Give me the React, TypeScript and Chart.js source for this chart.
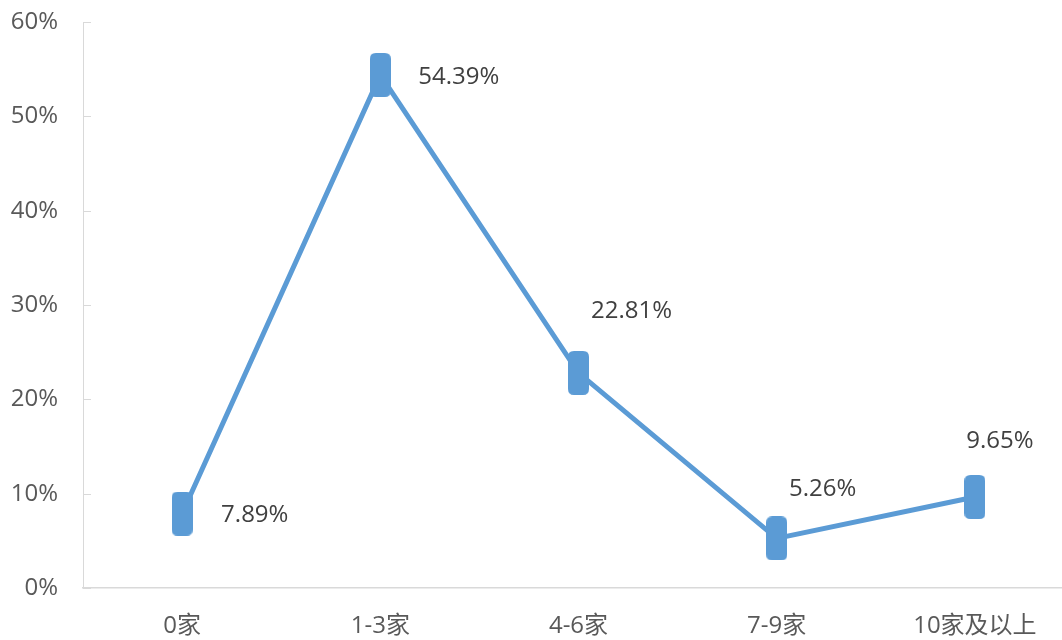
import React, { useEffect, useRef } from "react";
import { Chart, registerables } from "chart.js";

Chart.register(...registerables);

const categories = ["0家", "1-3家", "4-6家", "7-9家", "10家及以上"];
const values = [7.89, 54.39, 22.81, 5.26, 9.65];
const yTicks = [0, 10, 20, 30, 40, 50, 60];
// label placement offsets relative to the point [dx to label left/centre, dy], plus alignment
const labelAlign: ("left" | "center")[] = ["left", "left", "center", "center", "center"];
const labelOffsets: [number, number][] = [
  [39, 2],
  [38, 2],
  [53, -62],
  [46, -49],
  [25, -56],
];

const FONT = "'Open Sans', 'Noto Sans CJK SC', sans-serif";
const LINE_COLOR = "#5B9BD5";

function makeMarker(): HTMLCanvasElement {
  const w = 21;
  const h = 44;
  const c = document.createElement("canvas");
  c.width = w;
  c.height = h;
  const ctx = c.getContext("2d")!;
  ctx.fillStyle = LINE_COLOR;
  const rx = 6;
  const ry = 6;
  ctx.beginPath();
  ctx.moveTo(rx, 0);
  ctx.lineTo(w - rx, 0);
  ctx.quadraticCurveTo(w, 0, w, ry);
  ctx.quadraticCurveTo(w + 1, h / 2, w, h - ry);
  ctx.quadraticCurveTo(w, h, w - rx, h);
  ctx.lineTo(rx, h);
  ctx.quadraticCurveTo(0, h, 0, h - ry);
  ctx.quadraticCurveTo(-1, h / 2, 0, ry);
  ctx.quadraticCurveTo(0, 0, rx, 0);
  ctx.closePath();
  ctx.fill();
  return c;
}

const extrasPlugin = {
  id: "extras",
  afterDatasetsDraw(chart: any) {
    const ctx = chart.ctx;
    const y = chart.scales.y;
    const x = chart.scales.x;
    ctx.save();
    // inside tick marks on y axis
    ctx.strokeStyle = "#D9D9D9";
    ctx.lineWidth = 1;
    yTicks.forEach((t) => {
      const py = Math.round(y.getPixelForValue(t)) + 0.5;
      ctx.beginPath();
      ctx.moveTo(x.left, py);
      ctx.lineTo(x.left + 8, py);
      ctx.stroke();
    });
    // data labels
    const meta = chart.getDatasetMeta(0);
    ctx.font = `24px ${FONT}`;
    ctx.fillStyle = "#404040";
    ctx.textBaseline = "middle";
    meta.data.forEach((pt: any, i: number) => {
      const [dx, dy] = labelOffsets[i];
      ctx.textAlign = labelAlign[i];
      ctx.fillText(values[i].toFixed(2) + "%", pt.x + dx, pt.y + dy);
    });
    ctx.restore();
  },
};

export default function App() {
  const ref = useRef<HTMLCanvasElement>(null);
  useEffect(() => {
    document.body.style.margin = "0";
    const marker = makeMarker();
    const chart = new Chart(ref.current!, {
      type: "line",
      data: {
        labels: categories,
        datasets: [
          {
            data: values,
            borderColor: LINE_COLOR,
            backgroundColor: LINE_COLOR,
            borderWidth: 5,
            pointStyle: marker as any,
            pointRadius: 10,
            tension: 0,
            clip: false as any,
          },
        ],
      },
      options: {
        responsive: false,
        animation: false,
        devicePixelRatio: 1,
        layout: { autoPadding: false, padding: { top: 22, left: 0, right: 0, bottom: 0 } },
        plugins: { legend: { display: false }, tooltip: { enabled: false } },
        scales: {
          x: {
            offset: true,
            grid: { display: false, drawTicks: false },
            border: { display: true, color: "#D9D9D9", width: 1.5 },
            ticks: {
              color: "#595959",
              font: { family: FONT, size: 24 },
              padding: 24,
              maxRotation: 0,
              autoSkip: false,
            },
            afterFit: (s: any) => {
              s.height = 52;
              s.paddingLeft = 0;
              s.paddingRight = 0;
            },
          },
          y: {
            min: 0,
            max: 60,
            afterBuildTicks: (s: any) => {
              s.ticks = yTicks.map((v) => ({ value: v }));
            },
            grid: { display: false, drawTicks: false },
            border: { display: true, color: "#D9D9D9", width: 1 },
            ticks: {
              color: "#595959",
              font: { family: FONT, size: 24 },
              padding: 25,
              callback: (v: any) => v + "%",
            },
            afterFit: (s: any) => {
              s.width = 83;
              s.paddingTop = 0;
              s.paddingBottom = 0;
            },
          },
        },
      },
      plugins: [extrasPlugin],
    });
    return () => chart.destroy();
  }, []);
  return (
    <div style={{ position: "fixed", left: 0, top: 0, width: 1062, height: 640, overflow: "hidden", background: "#fff" }}>
      <canvas ref={ref} width={1074} height={640} style={{ display: "block" }} />
    </div>
  );
}
